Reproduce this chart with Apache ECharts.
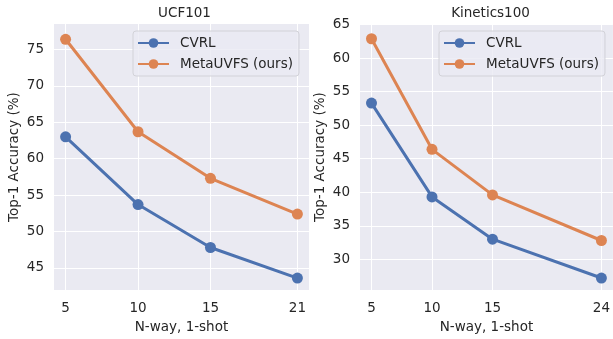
<!DOCTYPE html>
<html>
<head>
<meta charset="utf-8">
<script src="https://cdn.jsdelivr.net/npm/echarts@6/dist/echarts.min.js"></script>
<style>
  html, body { margin: 0; padding: 0; background: #fff; }
  #chart { width: 613px; height: 339px; }
</style>
</head>
<body>
<div id="chart"></div>
<script>
// UCF101 panel
const ucfWays = [5, 10, 15, 21];
const ucfCvrl = [63.0, 53.7, 47.8, 43.6];
const ucfMeta = [76.4, 63.7, 57.3, 52.4];
const ucfYTicks = [45, 50, 55, 60, 65, 70, 75];

// Kinetics100 panel
const kinWays = [5, 10, 15, 24];
const kinCvrl = [53.3, 39.3, 33.0, 27.2];
const kinMeta = [62.9, 46.4, 39.6, 32.8];
const kinYTicks = [30, 35, 40, 45, 50, 55, 60, 65];

const seriesNames = ["CVRL", "MetaUVFS (ours)"];
const titles = ["UCF101", "Kinetics100"];

const blue = "#4c72b0";
const orange = "#dd8452";
const textColor = "#262626";
const font = "DejaVu Sans";
const fs = 13.5;

const pairs = (xs, ys) => xs.map((x, i) => [x, ys[i]]);

function xAxis(idx, ways, min, max) {
  return {
    type: "value",
    gridIndex: idx,
    min: min,
    max: max,
    name: "N-way, 1-shot",
    nameLocation: "middle",
    nameGap: 28,
    nameTextStyle: { color: textColor, fontFamily: font, fontSize: fs },
    axisLine: { show: false },
    axisTick: { show: false, customValues: ways },
    axisLabel: { customValues: ways, color: textColor, fontFamily: font, fontSize: fs, margin: 11 },
    splitLine: { show: true, lineStyle: { color: "#ffffff", width: 1 } }
  };
}

function yAxis(idx, ticks, min, max) {
  return {
    type: "value",
    gridIndex: idx,
    min: min,
    max: max,
    name: "Top-1 Accuracy (%)",
    nameLocation: "middle",
    nameGap: 33,
    nameTextStyle: { color: textColor, fontFamily: font, fontSize: fs },
    axisLine: { show: false },
    axisTick: { show: false, customValues: ticks },
    axisLabel: { customValues: ticks, color: textColor, fontFamily: font, fontSize: fs, margin: 10 },
    splitLine: { show: true, lineStyle: { color: "#ffffff", width: 1 } }
  };
}

function line(name, color, idx, data) {
  return {
    name: name,
    type: "line",
    xAxisIndex: idx,
    yAxisIndex: idx,
    data: data,
    symbol: "circle",
    symbolSize: 11,
    lineStyle: { color: color, width: 3 },
    itemStyle: { color: color },
    animation: false
  };
}

function legend(left) {
  return {
    orient: "vertical",
    left: left,
    top: 31,
    data: seriesNames,
    itemWidth: 31,
    itemHeight: 12,
    itemGap: 7,
    padding: [5, 6, 5, 4],
    backgroundColor: "rgba(234,234,242,0.8)",
    borderColor: "#d2d2d8",
    borderWidth: 1,
    borderRadius: 3,
    textStyle: { color: textColor, fontFamily: font, fontSize: fs, padding: [0, 0, 0, 6] }
  };
}

const chart = echarts.init(document.getElementById("chart"), null, { renderer: "canvas" });

chart.setOption({
  backgroundColor: "#ffffff",
  animation: false,
  title: [
    { text: titles[0], left: 181.5, top: 3, padding: 3, textAlign: "center",
      textStyle: { color: textColor, fontFamily: font, fontSize: fs, fontWeight: "normal" } },
    { text: titles[1], left: 487.5, top: 3, padding: 3, textAlign: "center",
      textStyle: { color: textColor, fontFamily: font, fontSize: fs, fontWeight: "normal" } }
  ],
  grid: [
    { left: 54, top: 24, width: 255, height: 272, show: true, backgroundColor: "#eaeaf2", borderWidth: 0 },
    { left: 360, top: 24, width: 255, height: 272, show: true, backgroundColor: "#eaeaf2", borderWidth: 0 }
  ],
  legend: [legend(133), legend(439)],
  xAxis: [xAxis(0, ucfWays, 4.2, 21.8), xAxis(1, kinWays, 4.05, 24.95)],
  yAxis: [yAxis(0, ucfYTicks, 41.95, 78.5), yAxis(1, kinYTicks, 25.4, 65.1)],
  series: [
    line(seriesNames[0], blue, 0, pairs(ucfWays, ucfCvrl)),
    line(seriesNames[1], orange, 0, pairs(ucfWays, ucfMeta)),
    line(seriesNames[0], blue, 1, pairs(kinWays, kinCvrl)),
    line(seriesNames[1], orange, 1, pairs(kinWays, kinMeta))
  ]
});
</script>
</body>
</html>
